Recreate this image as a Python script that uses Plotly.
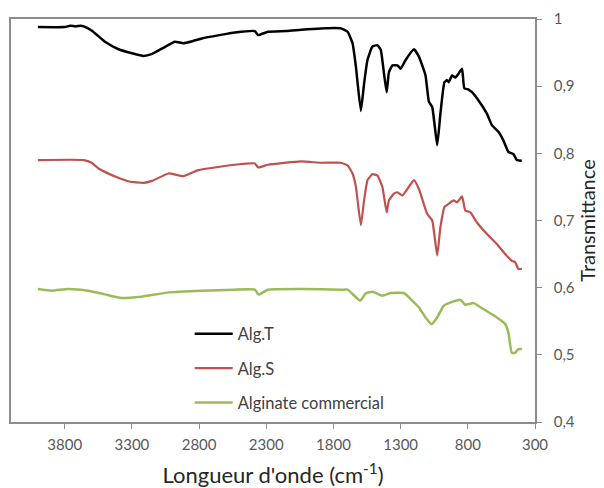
import plotly.graph_objects as go

# Alg.T
wn_T = [4000, 3800, 3760, 3720, 3680, 3658, 3600, 3500, 3400, 3300, 3213, 3150, 3050, 2980, 2917, 2850,
        2780, 2650, 2533, 2385, 2362, 2288, 2150, 2041, 1893, 1744, 1695, 1658, 1633, 1596, 1572, 1547,
        1510, 1473, 1448, 1424, 1404, 1387, 1361, 1324, 1300, 1263, 1201, 1164, 1115, 1090, 1065, 1028,
        1004, 974, 954, 942, 917, 893, 868, 843, 826, 794, 769, 732, 658, 621, 572, 535, 498, 461, 435, 398]
tr_T = [0.988, 0.988, 0.990, 0.989, 0.990, 0.989, 0.983, 0.966, 0.955, 0.949, 0.945, 0.948, 0.959, 0.966,
        0.964, 0.967, 0.971, 0.976, 0.980, 0.982, 0.976, 0.981, 0.982, 0.984, 0.986, 0.986, 0.981, 0.964,
        0.929, 0.863, 0.904, 0.939, 0.959, 0.961, 0.954, 0.919, 0.891, 0.921, 0.931, 0.931, 0.926, 0.939,
        0.955, 0.944, 0.916, 0.877, 0.869, 0.812, 0.859, 0.906, 0.909, 0.906, 0.916, 0.913, 0.919, 0.926,
        0.897, 0.895, 0.891, 0.882, 0.859, 0.842, 0.832, 0.819, 0.802, 0.799, 0.790, 0.789]

# Alg.S
wn_S = [4000, 3658, 3600, 3545, 3420, 3320, 3213, 3150, 3028, 2917, 2806, 2533, 2385, 2360, 2288, 2041,
        1893, 1744, 1695, 1658, 1633, 1596, 1572, 1547, 1510, 1473, 1436, 1404, 1387, 1350, 1324, 1287,
        1201, 1164, 1103, 1065, 1028, 1004, 974, 942, 905, 880, 843, 819, 781, 732, 658, 584, 522, 473,
        448, 424, 398]
tr_S = [0.790, 0.790, 0.786, 0.777, 0.765, 0.758, 0.756, 0.759, 0.770, 0.766, 0.775, 0.783, 0.785, 0.779,
        0.783, 0.788, 0.786, 0.786, 0.782, 0.770, 0.750, 0.693, 0.730, 0.760, 0.769, 0.767, 0.750, 0.712,
        0.730, 0.740, 0.742, 0.737, 0.760, 0.747, 0.710, 0.700, 0.648, 0.690, 0.720, 0.725, 0.730, 0.727,
        0.736, 0.715, 0.712, 0.697, 0.680, 0.665, 0.650, 0.640, 0.638, 0.628, 0.628]

# Alginate commercial
wn_C = [4000, 3897, 3775, 3627, 3500, 3380, 3232, 3028, 2781, 2535, 2385, 2357, 2288, 2041, 1744, 1695,
        1658, 1601, 1559, 1510, 1436, 1374, 1276, 1226, 1164, 1115, 1070, 1028, 979, 905, 856, 819, 757,
        683, 584, 522, 498, 473, 448, 424, 398]
tr_C = [0.598, 0.5955, 0.598, 0.5955, 0.590, 0.5846, 0.5866, 0.593, 0.5955, 0.597, 0.597, 0.5896, 0.597,
        0.598, 0.597, 0.597, 0.5906, 0.5806, 0.5915, 0.594, 0.588, 0.592, 0.592, 0.583, 0.5706, 0.5557,
        0.5458, 0.5557, 0.573, 0.5796, 0.582, 0.5746, 0.577, 0.568, 0.5557, 0.546, 0.533, 0.503, 0.503,
        0.5085, 0.5085]

x_ticks = [3800, 3300, 2800, 2300, 1800, 1300, 800, 300]
y_ticks = [0.4, 0.5, 0.6, 0.7, 0.8, 0.9, 1.0]
y_ticktext = ["0,4", "0,5", "0,6", "0,7", "0,8", "0,9", "1"]

series = [
    ("Alg.T", wn_T, tr_T, "#000000", 2.5),
    ("Alg.S", wn_S, tr_S, "#C0504D", 2.2),
    ("Alginate commercial", wn_C, tr_C, "#9BBB59", 2.5),
]

fig = go.Figure()
for name, x, y, color, w in series:
    fig.add_trace(go.Scatter(x=x, y=y, mode="lines", name=name, legendgroup=name,
                             line=dict(color=color, width=w, shape="spline", smoothing=0.4)))

axis_color = "#8C8C8C"
fig.update_layout(
    width=596, height=480,
    margin=dict(l=1, r=69, t=11, b=66),
    paper_bgcolor="white", plot_bgcolor="white",
    font=dict(family="Lato, Open Sans, sans-serif", color="#595959"),
    showlegend=True,
    legend=dict(x=0.341, y=0.262, xanchor="left", yanchor="top",
                bgcolor="rgba(0,0,0,0)", font=dict(size=16.5, color="#404040"),
                traceorder="grouped", tracegroupgap=10, itemwidth=38),
    xaxis=dict(range=[4200, 300], tickvals=x_ticks, ticks="outside", ticklen=5,
               tickcolor=axis_color, showline=True, linecolor=axis_color, linewidth=1.5,
               mirror=True, showgrid=False, zeroline=False, ticklabelstandoff=3,
               tickfont=dict(size=15, color="#595959"),
               title=dict(text="Longueur d'onde (cm<sup>-1</sup>)",
                          font=dict(size=22, color="#262626"), standoff=16)),
    yaxis=dict(range=[0.4, 1.0], side="right", tickvals=y_ticks, ticktext=y_ticktext,
               ticks="outside", ticklen=5, tickcolor=axis_color, showline=True,
               linecolor=axis_color, linewidth=1.5, mirror=True, showgrid=False,
               zeroline=False, ticklabelstandoff=9, tickfont=dict(size=15, color="#595959"),
               title=dict(text="Transmittance", font=dict(size=20, color="#262626"),
                          standoff=3)),
)

fig.write_html("out.html")
